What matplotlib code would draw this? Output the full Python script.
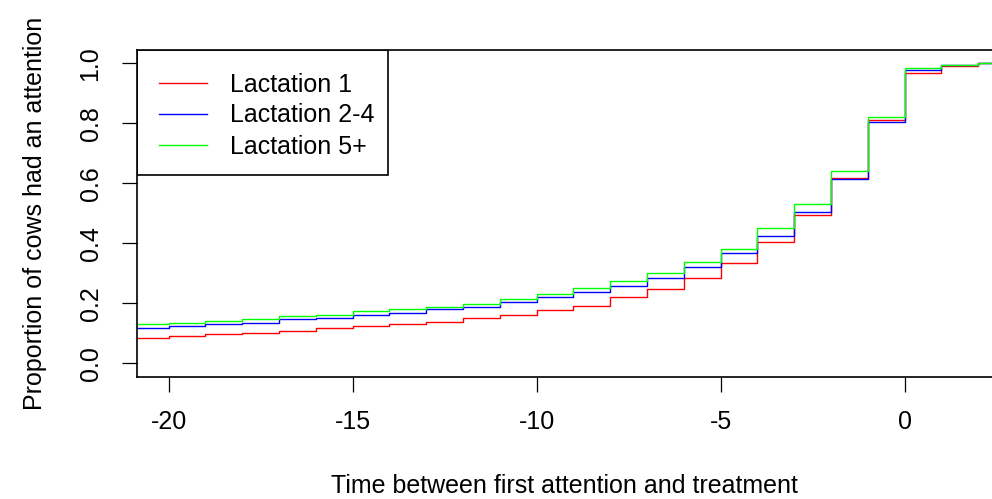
import matplotlib
matplotlib.use("Agg")
import matplotlib.pyplot as plt
from matplotlib.patches import Rectangle
import numpy as np

plt.rcParams['font.family'] = ['Liberation Sans', 'DejaVu Sans']
plt.rcParams['axes.unicode_minus'] = False

# step start (days), value holds until next step
days = np.arange(-21, 4)

lact1 = [0.085, 0.091, 0.097, 0.102, 0.108, 0.119, 0.124, 0.130, 0.139, 0.150,
         0.161, 0.178, 0.193, 0.222, 0.248, 0.286, 0.333, 0.403, 0.494, 0.617,
         0.811, 0.969, 0.991, 1.0, 1.0]
lact24 = [0.119, 0.124, 0.130, 0.135, 0.147, 0.152, 0.163, 0.169, 0.180, 0.189,
          0.205, 0.222, 0.237, 0.258, 0.286, 0.322, 0.367, 0.424, 0.506, 0.613,
          0.803, 0.978, 0.994, 1.0, 1.0]
lact5 = [0.130, 0.135, 0.141, 0.147, 0.158, 0.163, 0.174, 0.180, 0.189, 0.198,
         0.214, 0.230, 0.250, 0.275, 0.300, 0.339, 0.381, 0.450, 0.531, 0.641,
         0.822, 0.983, 0.994, 1.0, 1.0]

labels = ['Lactation 1', 'Lactation 2-4', 'Lactation 5+']
colors = ['#ff0000', '#0000ff', '#00ff00']

fig = plt.figure(figsize=(9.92, 4.99), dpi=100)
ax = fig.add_axes([136.7/992, 1-376.7/499, 1-136.7/992, (376.7-50)/499])

for y, lab, c in zip([lact1, lact24, lact5], labels, colors):
    ax.step(days, y, where='post', color=c, lw=1.0, label=lab)

ax.set_xlim(-20.864, 2.372)
ax.set_ylim(-0.044, 1.044)
ax.set_xticks([-20, -15, -10, -5, 0])
ax.set_yticks([0, 0.2, 0.4, 0.6, 0.8, 1.0])
ax.set_yticklabels(['0.0', '0.2', '0.4', '0.6', '0.8', '1.0'])

for s in ['left', 'top', 'bottom']:
    ax.spines[s].set_linewidth(1.2)
ax.spines['right'].set_visible(False)

ax.tick_params(axis='both', length=11, width=0.9, labelsize=18)
ax.tick_params(axis='x', pad=13)
ax.tick_params(axis='y', pad=13.6)
plt.setp(ax.get_yticklabels(), rotation=90, va='center')

ax.set_xlabel('Time between first attention and treatment', fontsize=18, labelpad=29)
ax.set_ylabel('Proportion of cows had an attention', fontsize=18, labelpad=23)

leg = ax.legend(loc='upper left', bbox_to_anchor=(0, 1), borderaxespad=0,
                fontsize=18, frameon=False,
                handlelength=1.9, handletextpad=0.92, borderpad=0.9,
                labelspacing=0.28)
# legend frame, as in R's legend box
ax.add_patch(Rectangle((0, 0.6174), 0.2938, 1 - 0.6174, transform=ax.transAxes,
                       fill=False, edgecolor='black', lw=1.2, zorder=5))

fig.savefig('out.png', dpi=100)
